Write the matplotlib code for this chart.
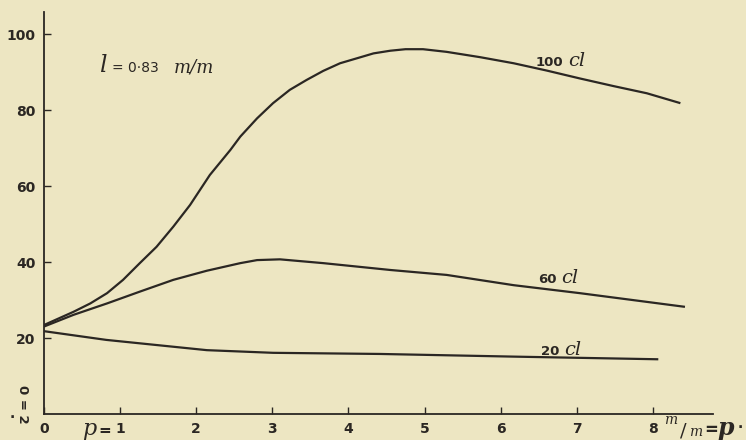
import matplotlib
matplotlib.use("Agg")
import matplotlib.pyplot as plt

# data
x_100 = [0.0, 0.39, 0.61, 0.83, 1.04, 1.26, 1.48, 1.70, 1.92, 2.18, 2.45, 2.58, 2.80, 3.01,
         3.23, 3.45, 3.67, 3.89, 4.11, 4.33, 4.55, 4.75, 4.98, 5.29, 5.73, 6.17, 6.60,
         7.04, 7.48, 7.92, 8.36]
y_100 = [23.4, 26.9, 29.1, 31.8, 35.3, 39.7, 44.0, 49.3, 55.0, 62.9, 69.5, 73.0, 77.8, 81.8,
         85.3, 87.9, 90.3, 92.3, 93.6, 94.9, 95.6, 96.0, 96.0, 95.3, 93.9, 92.3, 90.4,
         88.3, 86.3, 84.4, 81.8]

x_60 = [0.0, 0.39, 0.83, 1.26, 1.70, 2.14, 2.58, 2.80, 3.10, 3.67, 4.55, 5.29, 6.17, 7.04, 8.42]
y_60 = [23.0, 26.1, 29.1, 32.2, 35.3, 37.7, 39.7, 40.5, 40.7, 39.7, 37.9, 36.6, 33.9, 31.8, 28.2]

x_20 = [0.0, 0.82, 2.14, 3.01, 4.42, 6.17, 8.07]
y_20 = [21.8, 19.5, 16.8, 16.1, 15.8, 15.1, 14.4]

labels = ["100", "60", "20"]
label_pos = [(6.88, 91.6), (6.79, 34.5), (6.83, 15.5)]

xticks = [0, 1, 2, 3, 4, 5, 6, 7, 8]
yticks = [20, 40, 60, 80, 100]

bg = "#EDE6C2"
ink = "#2B2723"
W, H = 746, 440

fig = plt.figure(figsize=(W / 100, H / 100), dpi=100, facecolor=bg)
ax = fig.add_axes([43.86 / W, 26 / H, (713 - 43.86) / W, (414 - 12) / H])
ax.set_facecolor(bg)
ax.set_xlim(0, (713 - 43.86) / 76.14)
ax.set_ylim(0, (414 - 12) / 3.8)

for xs, ys in [(x_100, y_100), (x_60, y_60), (x_20, y_20)]:
    ax.plot(xs, ys, color=ink, lw=1.6, solid_capstyle="butt", solid_joinstyle="round")

for sp in ["top", "right"]:
    ax.spines[sp].set_visible(False)
for sp in ["left", "bottom"]:
    ax.spines[sp].set_color(ink)
    ax.spines[sp].set_linewidth(1.3)

ax.set_xticks(xticks)
ax.set_yticks(yticks)
ax.tick_params(direction="in", length=5, width=1.0, color=ink, labelcolor=ink,
               labelsize=10)
ax.tick_params(axis="x", pad=6)
ax.tick_params(axis="y", pad=6)
for t in ax.get_xticklabels() + ax.get_yticklabels():
    t.set_fontweight("bold")

serif_it = dict(family="DejaVu Serif", style="italic")

for lab, (lx, ly) in zip(labels, label_pos):
    ax.text(lx - 0.06, ly, lab, ha="right", va="baseline", fontsize=9.5,
            fontweight="bold", color=ink)
    ax.text(lx, ly, "cl", ha="left", va="baseline", fontsize=14, color=ink,
            **serif_it)

# parameter annotation
ax.text(0.72, 90, "l", fontsize=17, color=ink, va="baseline", **serif_it)
ax.text(0.90, 90, "= 0·83", fontsize=10, color=ink, va="baseline")
ax.text(1.70, 90, "m/m", fontsize=13, color=ink, va="baseline", **serif_it)


def fp(x, y):
    return x / W, 1 - y / H


# axis annotations in figure pixels
fig.text(*fp(82, 435), "p", ha="left", va="baseline", fontsize=16, color=ink, **serif_it)
fig.text(*fp(98, 435), "=", ha="left", va="baseline", fontsize=11, color=ink, fontweight="bold")
fig.text(*fp(664, 424), "m", ha="left", va="baseline", fontsize=10, color=ink, **serif_it)
fig.text(*fp(680, 436), "/", ha="left", va="baseline", fontsize=14, color=ink,
         family="DejaVu Serif")
fig.text(*fp(689, 436), "m", ha="left", va="baseline", fontsize=10, color=ink, **serif_it)
fig.text(*fp(704, 435), "=", ha="left", va="baseline", fontsize=12, color=ink,
         fontweight="bold")
fig.text(*fp(717, 435), "p", ha="left", va="baseline", fontsize=17, color=ink,
         fontweight="bold", **serif_it)
fig.text(*fp(738, 432), "·", ha="left", va="baseline", fontsize=10, color=ink,
         fontweight="bold")
fig.text(*fp(22, 404), "0 = 2", rotation=270, ha="center", va="center",
         fontsize=9.5, fontweight="bold", color=ink)
fig.text(*fp(12, 418), "·", ha="center", va="center", fontsize=10, color=ink,
         fontweight="bold")

fig.savefig("out.png", dpi=100, facecolor=bg)
